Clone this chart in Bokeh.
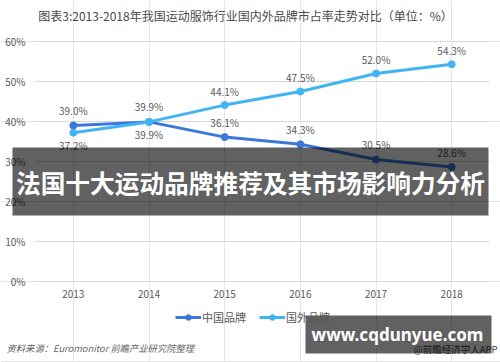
from bokeh.plotting import figure
from bokeh.models import (Range1d, BoxAnnotation, Label, Legend, LegendItem, LinearAxis,
                          ColumnDataSource, FixedTicker, CustomJSTickFormatter)
from bokeh.embed import file_html
from bokeh.resources import INLINE
from bokeh.core.properties import value

# ---- data ----
years = ["2013", "2014", "2015", "2016", "2017", "2018"]
china = [39.0, 39.9, 36.1, 34.3, 30.5, 28.6]
foreign = [37.2, 39.9, 44.1, 47.5, 52.0, 54.3]
y_ticks = [0, 10, 20, 30, 40, 50, 60]
series_names = ["中国品牌", "国外品牌"]
title_text = "图表3:2013-2018年我国运动服饰行业国内外品牌市占率走势对比（单位：%）"
banner_text = "法国十大运动品牌推荐及其市场影响力分析"
site_text = "www.cqdunyue.com"
source_text = "资料来源：Euromonitor 前瞻产业研究院整理"
credit_text = "@前瞻经济学人APP"

FONT = "Noto Sans CJK SC"
C_CHINA = "#3a78dc"
C_FOREIGN = "#42b4f4"
TXT = "#595959"

W, H = 500, 362
idx = list(range(len(years)))
n = len(years)

p = figure(width=W, height=H, x_range=Range1d(-0.9625, 5.645), y_range=Range1d(-20.25, 70.25),
           output_backend="svg", toolbar_location=None,
           x_axis_location=None, y_axis_location=None, min_border=0)
p.outline_line_color = None
p.background_fill_color = "white"
p.border_fill_color = "white"

# axes drawn at fixed positions inside the full-canvas frame
yax = LinearAxis(fixed_location=-0.5, ticker=FixedTicker(ticks=y_ticks),
                 formatter=CustomJSTickFormatter(code="return tick + '%'"))
xax = LinearAxis(fixed_location=0, ticker=FixedTicker(ticks=idx),
                 major_label_overrides={i: y for i, y in zip(idx, years)})
for ax in (xax, yax):
    ax.axis_line_color = None
    ax.major_tick_line_color = None
    ax.minor_tick_line_color = None
    ax.major_tick_out = 0
    ax.major_tick_in = 0
    ax.major_label_text_font = FONT
    ax.major_label_text_font_size = "10px"
    ax.major_label_text_color = TXT
yax.major_label_standoff = 10
xax.major_label_standoff = 8
p.add_layout(yax, "left")
p.add_layout(xax, "below")

# horizontal grid lines spanning the category bands
p.segment(x0=[-0.5] * len(y_ticks), x1=[n - 0.5] * len(y_ticks), y0=y_ticks, y1=y_ticks,
          line_color="#d9d9d9", line_width=1)

src = ColumnDataSource(dict(x=idx, china=china, foreign=foreign))
r1 = p.line("x", "china", source=src, line_color=C_CHINA, line_width=3)
r1c = p.scatter("x", "china", source=src, size=7, fill_color=C_CHINA, line_color=C_CHINA)
r2 = p.line("x", "foreign", source=src, line_color=C_FOREIGN, line_width=3)
r2c = p.scatter("x", "foreign", source=src, size=7, fill_color=C_FOREIGN, line_color=C_FOREIGN)

china_lbl = [f"{v:.1f}%" for v in china]
foreign_lbl = [f"{v:.1f}%" for v in foreign]
foreign_off = [13 if f <= c else -14 for f, c in zip(foreign, china)]
p.text(x=idx, y=china, text=china_lbl, y_offset=-15, text_align="center",
       text_baseline="middle", text_font=value(FONT), text_font_size="10px", text_color=TXT)
p.text(x=idx, y=foreign, text=foreign_lbl, y_offset=foreign_off, text_align="center",
       text_baseline="middle", text_font=value(FONT), text_font_size="10px", text_color=TXT)

legend = Legend(items=[LegendItem(label=series_names[0], renderers=[r1, r1c]),
                       LegendItem(label=series_names[1], renderers=[r2, r2c])],
                orientation="horizontal", location=(175, 37),
                border_line_color=None, background_fill_alpha=0, padding=0, margin=0,
                spacing=13, label_standoff=1, glyph_width=26, glyph_height=14,
                label_height=14, label_text_font_size="11px", label_text_color=TXT,
                label_text_font=FONT)
p.add_layout(legend)

p.add_layout(Label(x=245, y=347, x_units="screen", y_units="screen", text=title_text,
                   text_align="center", text_baseline="middle", text_font=FONT,
                   text_font_size="12px", text_color="#4a4a4a"))

p.add_layout(Label(x=6, y=15, x_units="screen", y_units="screen", text=source_text,
                   text_align="left", text_baseline="middle", text_font=FONT,
                   text_font_size="9.3px", text_font_style="italic", text_color="#666666"))
p.add_layout(Label(x=497, y=14, x_units="screen", y_units="screen", text=credit_text,
                   text_align="right", text_baseline="middle", text_font=FONT,
                   text_font_size="9.5px", text_color="#404040"))

p.add_layout(BoxAnnotation(left=12, right=488, bottom=147, top=215,
                           left_units="screen", right_units="screen",
                           bottom_units="screen", top_units="screen",
                           fill_color="black", fill_alpha=0.62, line_color=None))
p.add_layout(Label(x=250, y=181, x_units="screen", y_units="screen", text=banner_text,
                   text_align="center", text_baseline="middle", text_font=FONT,
                   text_font_size="24.7px", text_font_style="bold", text_color="white"))

p.add_layout(BoxAnnotation(left=305, right=491, bottom=9, top=47,
                           left_units="screen", right_units="screen",
                           bottom_units="screen", top_units="screen",
                           fill_color="black", fill_alpha=0.62, line_color=None))
p.add_layout(Label(x=397, y=28, x_units="screen", y_units="screen", text=site_text,
                   text_align="center", text_baseline="middle", text_font="Noto Sans",
                   text_font_size="17px", text_font_style="bold", text_color="white"))

open("out.html", "w").write(file_html(p, INLINE))
